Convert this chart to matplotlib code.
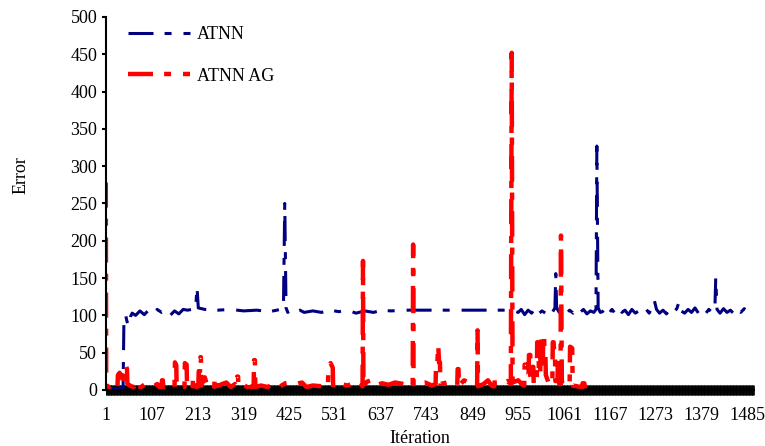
import numpy as np
import matplotlib
matplotlib.use("Agg")
import matplotlib.pyplot as plt

plt.rcParams['font.family'] = ['Liberation Serif', 'DejaVu Serif']
plt.rcParams['lines.scale_dashes'] = False

# ATNN (blue) : iteration, error
atnn_x = [1, 20, 41, 43, 47, 50, 54, 58, 62, 70, 80, 90, 100, 110, 120, 130, 140, 150,
          160, 170, 180, 190, 200, 209, 212, 215, 230, 260, 290, 320, 350, 380, 405,
          412, 415, 418, 422, 430, 440, 450, 460, 480, 500, 520, 540, 560, 580, 600,
          620, 640, 660, 700, 740, 800, 850, 900, 940,
          955, 962, 970, 978, 986, 994, 1002, 1010, 1018, 1026, 1034, 1040, 1042, 1044,
          1050, 1058, 1066, 1074, 1082, 1090, 1098, 1106, 1114, 1122, 1130, 1135, 1137,
          1140, 1145,
          1150, 1158, 1165, 1172, 1180, 1188, 1195, 1202, 1210, 1218, 1226, 1234, 1242,
          1250, 1258, 1265, 1270, 1275, 1282, 1290, 1298, 1306, 1314, 1322, 1327, 1332,
          1340, 1348, 1356, 1364, 1372, 1380, 1388, 1396, 1404, 1410, 1412, 1415, 1422,
          1430, 1438, 1446, 1454, 1462, 1470, 1478, 1486, 1494, 1500]
atnn_y = [1, 2, 3, 95, 100, 92, 86, 98, 103, 100, 106, 101, 107, 103, 108, 104, 107, 100,
          106, 102, 108, 107, 108, 110, 138, 110, 108, 107, 108, 106, 107, 105, 108,
          110, 250, 110, 104, 108, 105, 107, 104, 106, 104, 107, 105, 107, 103, 106,
          104, 107, 106, 107, 107, 107, 107, 107, 107,
          104, 108, 101, 107, 103, 109, 102, 106, 103, 109, 104, 110, 156, 110,
          104, 108, 102, 107, 103, 109, 104, 108, 102, 106, 104, 108, 327,
          110, 104,
          105, 110, 103, 108, 102, 109, 104, 107, 101, 108, 103, 106, 104,
          109, 103, 110, 120, 108, 103, 107, 102, 108, 104, 109, 118, 106,
          103, 108, 104, 110, 103, 107, 102, 108, 104, 108, 150, 108, 103,
          109, 104, 107, 102, 108, 104, 109, 103, 107, 105]

# ATNN AG (red) : iteration, error
ag_x = [1, 2, 10, 15, 20, 25, 28, 29, 33, 37, 39, 40, 43, 44, 47, 50, 51, 60, 66, 67,
        70, 71, 80, 90, 100, 110, 120, 126, 130, 131, 133, 134, 145, 155, 160, 161, 164,
        165, 175, 183, 184, 188, 189, 198, 202, 203, 208, 209, 215, 216, 219, 220, 221,
        222, 230, 236, 245, 252, 253, 258, 259, 270, 280, 290, 300, 304, 305, 307, 308,
        320, 330, 340, 343, 344, 346, 347, 360, 375, 390, 405, 416, 425, 440, 455, 465,
        480, 500, 515, 516, 521, 526, 527, 545, 560, 575, 590, 595, 596, 597, 605, 615,
        625, 640, 655, 670, 690, 705, 711, 712, 713, 725, 740, 755, 764, 765, 768, 770,
        772, 774, 775, 790, 800, 814, 815, 817, 818, 830, 845, 855, 860, 861, 862, 875,
        885, 893, 897, 898, 900, 901, 915, 930, 938, 940, 942, 955, 965, 969, 970, 974,
        975, 979, 980, 983, 984, 987, 988, 990, 991, 998, 999, 1002, 1003, 1006, 1007,
        1009, 1010, 1012, 1013, 1015, 1016, 1018, 1019, 1025, 1030, 1034, 1035, 1037,
        1038, 1040, 1041, 1046, 1047, 1049, 1050, 1053, 1054, 1056, 1065, 1074, 1075,
        1080, 1081, 1090, 1100, 1103, 1104, 1108, 1110]
ag_y = [278, 5, 4, 7, 3, 6, 4, 20, 23, 18, 20, 6, 6, 30, 34, 28, 8, 5, 4, 9,
        9, 3, 3, 7, 8, 4, 8, 3, 4, 13, 13, 4, 6, 3, 4, 37, 33,
        5, 4, 4, 36, 34, 5, 8, 5, 18, 16, 4, 5, 25, 25, 44, 44,
        6, 17, 5, 8, 4, 17, 16, 5, 8, 10, 4, 8, 5, 18, 18, 4,
        7, 3, 5, 4, 40, 40, 4, 6, 4, 8, 5, 9, 10, 8, 10, 4,
        6, 5, 5, 30, 36, 30, 4, 8, 6, 9, 11, 5, 173, 5, 11, 13,
        6, 9, 7, 10, 8, 6, 5, 195, 5, 9, 10, 6, 8, 37, 37, 60,
        37, 37, 8, 10, 7, 6, 28, 28, 6, 13, 8, 5, 5, 80, 5, 8,
        13, 6, 5, 18, 18, 5, 8, 12, 8, 452, 10, 13, 7, 6, 34, 34,
        20, 20, 47, 47, 12, 12, 31, 31, 8, 8, 64, 64, 20, 20, 70,
        70, 36, 36, 72, 72, 47, 47, 20, 10, 8, 8, 64, 64,
        54, 54, 12, 12, 44, 44, 8, 8, 207, 10, 6, 6, 58,
        56, 6, 5, 4, 4, 9, 9, 2]

n_iter = 1500
xtick_pos = [1, 107, 213, 319, 425, 531, 637, 743, 849, 955, 1061, 1167, 1273, 1379, 1485]
ytick_pos = [0, 50, 100, 150, 200, 250, 300, 350, 400, 450, 500]

fig = plt.figure(figsize=(7.65, 4.46), dpi=100)
ax = fig.add_axes([0.138, 0.1256, 0.8476, 0.8363])

ax.plot(atnn_x, atnn_y, color='#000080', lw=2.2, linestyle=(0, (18, 8, 5, 8.6)),
        solid_capstyle='butt', dash_capstyle='butt', label='ATNN')
ax.plot(ag_x, ag_y, color='#ff0000', lw=3.2, linestyle=(0, (18, 8, 5, 8.6)),
        solid_capstyle='butt', dash_capstyle='butt', label='ATNN AG')

ax.set_xlim(0.5, n_iter + 0.5)
ax.set_ylim(0, 500)
ax.set_xticks(xtick_pos)
ax.set_xticks(np.arange(1, n_iter + 1), minor=True)
ax.set_yticks(ytick_pos)

for s in ['top', 'right']:
    ax.spines[s].set_visible(False)
ax.spines['left'].set_linewidth(1.5)
ax.spines['bottom'].set_linewidth(1.5)

ax.tick_params(axis='x', which='both', direction='inout', length=6.5, width=0.6,
               labelsize=13, pad=9)
ax.tick_params(axis='y', which='major', direction='out', length=3, width=1.5,
               labelsize=13, pad=3)

ax.set_xlabel('Itération', fontsize=13)
ax.set_ylabel('Error', fontsize=13)
ax.xaxis.set_label_coords(0.485, -0.108)
ax.yaxis.set_label_coords(-0.118, 0.576)

ax.legend(loc='upper left', bbox_to_anchor=(0.035, 0.975), frameon=False, fontsize=13,
          handlelength=3.43, handletextpad=0.39, labelspacing=1.35,
          borderaxespad=0, borderpad=0)

plt.savefig('out.png', dpi=100)
